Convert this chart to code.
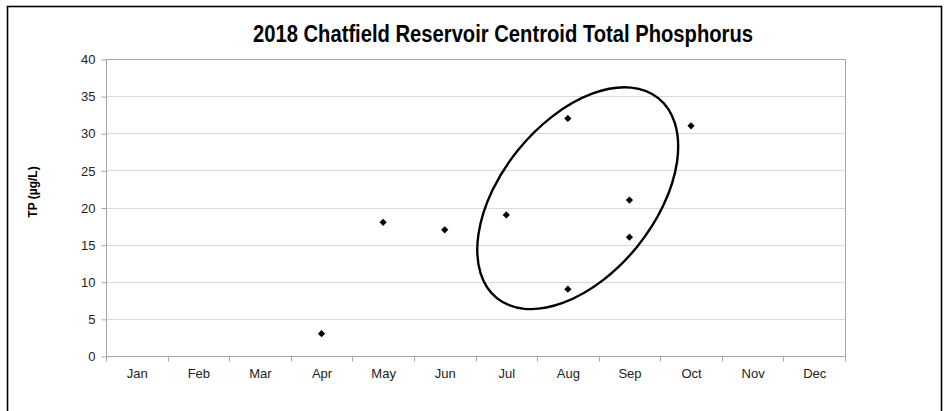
<!DOCTYPE html>
<html>
<head>
<meta charset="utf-8">
<script src="https://cdn.jsdelivr.net/npm/d3@7"></script>
<style>
  html, body { margin: 0; padding: 0; background: #fff; }
  svg { display: block; }
</style>
</head>
<body>
<div id="chart"></div>
<script>
// chart data
var months = ['Jan', 'Feb', 'Mar', 'Apr', 'May', 'Jun', 'Jul', 'Aug', 'Sep', 'Oct', 'Nov', 'Dec'];
var sampleMonths = ['Apr', 'May', 'Jun', 'Jul', 'Aug', 'Aug', 'Sep', 'Sep', 'Oct'];
var tpValues = [3, 18, 17, 19, 32, 9, 21, 16, 31];
var yTicks = [0, 5, 10, 15, 20, 25, 30, 35, 40];
// circled group, centre in month units / µg/L
var circleCentre = [7.66, 21.25];

var template = {
  width: 944,
  height: 411,
  plot: { left: 106, right: 845, top: 59, bottom: 356 }
};

(function(cfg) {
  var $svg = d3
    .select('#chart')
    .append('svg')
    .attr('width', cfg.width)
    .attr('height', cfg.height);

  // outer chart frame (bottom edge runs off the picture)
  $svg
    .append('rect')
    .attr('x', 7.5)
    .attr('y', 6.5)
    .attr('width', 934)
    .attr('height', 430)
    .attr('fill', 'none')
    .attr('stroke', '#000')
    .attr('stroke-width', 1.6);

  var x = d3
    .scaleLinear()
    .domain([0, months.length])
    .range([cfg.plot.left, cfg.plot.right]);
  var y = d3
    .scaleLinear()
    .domain([0, 40])
    .range([cfg.plot.bottom, cfg.plot.top]);

  // gridlines
  $svg
    .append('g')
    .selectAll('line')
    .data(yTicks.filter(d => d > 0 && d < 40))
    .enter()
    .append('line')
    .attr('x1', x(0))
    .attr('x2', x(12))
    .attr('y1', d => Math.round(y(d)) + 0.5)
    .attr('y2', d => Math.round(y(d)) + 0.5)
    .attr('stroke', '#d9d9d9')
    .attr('stroke-width', 1);

  // plot area box
  $svg
    .append('rect')
    .attr('x', x(0) + 0.5)
    .attr('y', y(40) + 0.5)
    .attr('width', x(12) - x(0))
    .attr('height', y(0) - y(40))
    .attr('fill', 'none')
    .attr('stroke', '#a6a6a6')
    .attr('stroke-width', 1);

  // y axis
  var yAxis = d3
    .axisLeft(y)
    .tickValues(yTicks)
    .tickSize(5)
    .tickPadding(6);
  var gy = $svg
    .append('g')
    .attr('transform', 'translate(' + (x(0) + 0.5) + ',0.5)')
    .call(yAxis);
  gy.select('.domain').remove();
  gy.selectAll('line').attr('stroke', '#a6a6a6');
  gy.selectAll('text')
    .attr('fill', '#222')
    .style('font-family', 'Arial, "Liberation Sans", sans-serif')
    .style('font-size', '13px');

  // x axis: ticks on month boundaries, labels centred in months
  var gx = $svg
    .append('g')
    .attr('transform', 'translate(0.5,' + (y(0) + 0.5) + ')');
  gx.selectAll('line')
    .data(d3.range(0, months.length + 1))
    .enter()
    .append('line')
    .attr('x1', d => Math.round(x(d)))
    .attr('x2', d => Math.round(x(d)))
    .attr('y1', 0)
    .attr('y2', 5)
    .attr('stroke', '#a6a6a6');
  gx.selectAll('text')
    .data(months)
    .enter()
    .append('text')
    .attr('x', (d, i) => x(i + 0.5))
    .attr('y', 21)
    .attr('text-anchor', 'middle')
    .attr('fill', '#222')
    .style('font-family', 'Arial, "Liberation Sans", sans-serif')
    .style('font-size', '13px')
    .text(d => d);

  // points
  var diamond = d3.symbol().type(d3.symbolSquare).size(26);
  $svg
    .append('g')
    .selectAll('path')
    .data(tpValues.map((v, i) => ({ month: sampleMonths[i], value: v })))
    .enter()
    .append('path')
    .attr('d', diamond)
    .attr('transform', d =>
      'translate(' + x(months.indexOf(d.month) + 0.5) + ',' + y(d.value) + ') rotate(45)'
    )
    .attr('fill', '#000');

  // annotation ellipse around Jul-Sep samples
  $svg
    .append('ellipse')
    .attr('cx', 0)
    .attr('cy', 0)
    .attr('rx', 128.5)
    .attr('ry', 76.7)
    .attr('transform', 'translate(' + x(circleCentre[0]) + ',' + y(circleCentre[1]) + ') rotate(-51)')
    .attr('fill', 'none')
    .attr('stroke', '#000')
    .attr('stroke-width', 2.4);

  // title
  $svg
    .append('text')
    .attr('x', 503)
    .attr('y', 42)
    .attr('text-anchor', 'middle')
    .attr('textLength', 500)
    .attr('lengthAdjust', 'spacingAndGlyphs')
    .style('font-family', '"Liberation Sans Narrow", "Arial Narrow", "Liberation Sans", sans-serif')
    .style('font-weight', 'bold')
    .style('font-size', '23px')
    .attr('fill', '#000')
    .text('2018 Chatfield Reservoir Centroid Total Phosphorus');

  // y axis title
  $svg
    .append('text')
    .attr('transform', 'translate(37,192) rotate(-90)')
    .attr('text-anchor', 'middle')
    .style('font-family', 'Arial, "Liberation Sans", sans-serif')
    .style('font-weight', 'bold')
    .style('font-size', '12px')
    .attr('fill', '#000')
    .text('TP (µg/L)');
})(template);
</script>
</body>
</html>
